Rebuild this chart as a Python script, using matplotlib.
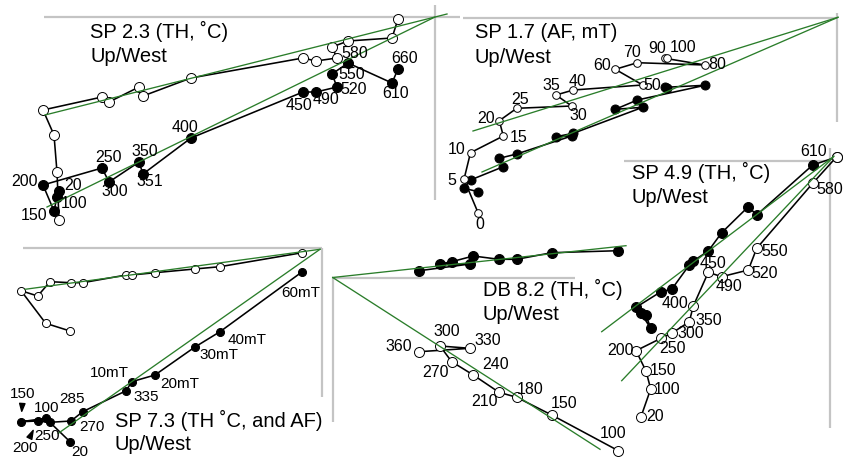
import matplotlib.pyplot as plt
import numpy as np

plt.rcParams['font.family'] = ['Liberation Sans', 'DejaVu Sans']

GREEN = '#2a7d2a'
GREY = '#c4c4c4'

# Orthogonal vector components for each specimen, in plot units relative to
# the diagram origin: x = N/S, hz = horizontal plane (solid), up = vertical (open)

# SP 2.3, thermal demagnetisation
sp23_steps = ['20', '100', '150', '200', '250', '300', '350', '351', '400',
              '450', '490', '520', '550', '580', '610', '660']
sp23_x = [-376, -378, -381, -392, -333, -326, -296, -292, -244,
          -132, -119, -98, -103, -87, -43, -37]
sp23_hz = [-174, -180, -194, -168, -151, -165, -145, -157, -121,
           -75, -75, -70, -57, -46, -66, -52]
sp23_up = [-203, -155, -118, -93, -80, -85, -70, -79, -61,
           -41, -44, -41, -30, -24, -21, -2]
sp23_fit_hz = [[-388, 0], [-190, 0]]
sp23_fit_up = [[-390, 12], [-98, 3]]

# SP 1.7, AF demagnetisation (mT)
sp17_steps = ['0', '5', '10', '15', '20', '25', '30', '35', '40',
              '50', '60', '70', '80', '90', '100']
sp17_x = [-358.7, -373, -366.5, -333.7, -337.7, -320.3, -265.3, -281, -263.7,
          -194.3, -221.7, -199.7, -132, -172, -170]
sp17_hz = [-173.7, -170.3, -162, -148.7, -140.3, -136, -118, -118.7, -115.3,
           -89.3, -91.3, -82, -67.3, -69.3, -70]
sp17_up = [-195.3, -161.3, -134.7, -118, -102.7, -90.3, -88, -77, -72,
           -67, -51.3, -44.7, -47, -40.3, -40]
sp17_fit_hz = [[-355, 1], [-154, 0.7]]
sp17_fit_up = [[-364, 1], [-113, 0.7]]

# SP 4.9, thermal demagnetisation
sp49_steps = ['20', '100', '150', '200', '250', '300', '350', '400', '450',
              '490', '520', '550', '580', '610']
sp49_x = [-189, -179.3, -184, -194, -169, -158.3, -140.7, -136.7, -121.7,
          -108.3, -81.7, -73.3, -17.3, 6.7]
sp49_hz = [-152.6, -167.6, -154.3, -146.6, -131, -128.6, -104.3, -100.3, -90.3,
           -72, -46, -54.3, -4.3, 3.7]
sp49_up = [-256, -228.3, -210.3, -190, -177.6, -172.6, -161, -145.3, -111.6,
           -116, -109.3, -87.6, -22.6, 4]
sp49_fit_hz = [[-228.3, 3.3], [-171, 4]]
sp49_fit_up = [[-208.3, 4], [-220, 4.5]]

# SP 7.3, thermal then AF
sp73_steps = ['20', '100', '150', '200', '250', '270', '285', '335',
              '10mT', '20mT', '30mT', '40mT', '60mT']
sp73_x = [-252, -276.3, -301, -284.3, -272, -251, -239.3, -195.8,
          -190.3, -167, -127.5, -102, -19.7]
sp73_hz = [-193.2, -169.8, -173.2, -172.5, -173.8, -172.5, -163.2, -142.2,
           -133.2, -126.5, -98.8, -83.2, -23.2]
sp73_up = [-82.5, -74.8, -42.2, -47.5, -33.2, -34.2, -34.2, -26.5,
           -26.5, -24.2, -20.5, -18.2, -4.2]
sp73_fit_hz = [[-263.7, -2], [-184.8, -0.8]]
sp73_fit_up = [[-297, -2], [-40.8, -0.8]]

# DB 8.2, thermal demagnetisation
db82_steps = ['100', '150', '180', '210', '240', '270', '300', '330', '360']
db82_x = [285.6, 219, 184, 166.3, 140.6, 119, 107.3, 137.3, 86.6]
db82_hz = [26.8, 24.8, 18.2, 18.2, 21.5, 15.8, 13.5, 13.5, 6.8]
db82_up = [-173.2, -137.5, -119.8, -114.8, -97.5, -84.2, -68.5, -70.8, -74.2]
db82_fit_hz = [[0, 293.3], [0, 31.8]]
db82_fit_up = [[0, 267.3], [0, -171.8]]

W, H = 851, 461
fig = plt.figure(figsize=(W / 100, H / 100), dpi=100)
ax = fig.add_axes([0, 0, 1, 1])
ax.set_xlim(0, W)
ax.set_ylim(0, H)
ax.axis('off')


def zijderveld(origin, x, hz, up, steps, label_on, offsets, fit_hz, fit_up,
               h_ext, v_ext, title, title_xy, ms=7.2, ms_open=None, fs=11.5,
               wedges=()):
    ox, oy = origin[0], H - origin[1]
    xs = ox + np.asarray(x, float)
    yh = oy + np.asarray(hz, float)
    yu = oy + np.asarray(up, float)
    # grey axes
    ax.plot([ox + h_ext[0], ox + h_ext[1]], [oy, oy], color=GREY, lw=1.6,
            solid_capstyle='butt', zorder=1)
    ax.plot([ox, ox], [oy + v_ext[0], oy + v_ext[1]], color=GREY, lw=1.6,
            solid_capstyle='butt', zorder=1)
    ax.plot(xs, yh, color='black', lw=1.15, marker='o', ms=ms,
            mfc='black', mec='black', mew=0.7, zorder=3)
    ax.plot(xs, yu, color='black', lw=1.15, marker='o', ms=ms_open or ms,
            mfc='white', mec='black', mew=0.7, zorder=3)
    for f in (fit_hz, fit_up):
        ax.plot(ox + np.asarray(f[0]), oy + np.asarray(f[1]), color=GREEN,
                lw=0.95, zorder=4)
    ys = yh if label_on == 'hz' else yu
    for s, xi, yi, (dx, dy) in zip(steps, xs, ys, offsets):
        kw = {}
        if s in wedges:
            kw['arrowprops'] = dict(arrowstyle='wedge,tail_width=0.35',
                                    color='black', shrinkA=0, shrinkB=7.5)
        ax.annotate(s, (xi, yi), xytext=(dx, dy), textcoords='offset pixels',
                    ha='center', va='center', fontsize=fs, zorder=5, **kw)
    ax.text(ox + title_xy[0], oy + title_xy[1], title, fontsize=14.5,
            ha='left', va='baseline', zorder=5)
    ax.text(ox + title_xy[0], oy + title_xy[2], 'Up/West', fontsize=14.5,
            ha='left', va='baseline', zorder=5)


zijderveld((435, 17), sp23_x, sp23_hz, sp23_up, sp23_steps, 'hz',
           [(14, 5), (17, -6), (-20, -5), (-19, 4), (7, 10), (6, -9), (6, 10),
            (7, -8), (-6, 11), (-4, -13), (10, -8), (17, -3), (20, -1),
            (7, 9), (4, -11), (7, 10)],
           sp23_fit_hz, sp23_fit_up, (-391, 25), (12, -183),
           'SP 2.3 (TH, \u02daC)', (-345, -21.3, -44.7))

zijderveld((837, 18), sp17_x, sp17_hz, sp17_up, sp17_steps, 'up',
           [(2, -11), (-12, -1), (-14, 3), (15, -2), (-13, 2), (3, 9), (7, -9),
            (-5, 10), (4, 9), (10, -1), (-13, 4), (-5, 10), (12, 0),
            (-8, 10), (16, 10)],
           sp17_fit_hz, sp17_fit_up, (-374, 0), (5, -104),
           'SP 1.7 (AF, mT)', (-362, -20.3, -45.3), ms=6.5, ms_open=5.5)

zijderveld((830, 160.7), sp49_x, sp49_hz, sp49_up, sp49_steps, 'up',
           [(14, 0), (16, 0), (17, 1), (-16, 0), (12, -10), (19, 0), (19, 1),
            (-18, 3), (5, 9), (7, -10), (16, -3), (18, -3), (17, -6),
            (-23, 5)],
           sp49_fit_hz, sp49_fit_up, (-206, 0), (12.5, -267.3),
           'SP 4.9 (TH, \u02daC)', (-198.3, -18.6, -42.6))

zijderveld((322, 248.5), sp73_x, sp73_hz, sp73_up, sp73_steps, 'hz',
           [(10, -10), (1, 10), (2, 28), (-13, -27), (-3, -14), (21, -6),
            (-11, 13), (20, -6), (-22, 9), (25, -9), (24, -8), (27, -8),
            (-2, -21)],
           sp73_fit_hz, sp73_fit_up, (-299, 0), (0, -148.5),
           'SP 7.3 (TH \u02daC, and AF)', (-207, -178.2, -201.5),
           ms=5.8, fs=11, wedges=('150', '200'))

zijderveld((332.7, 277.5), db82_x, db82_hz, db82_up, db82_steps, 'up',
           [(-5, 17), (12, 12), (13, 8), (-14, -9), (22, 11), (-16, -11),
            (7, 14), (18, 8), (-21, 5)],
           db82_fit_hz, db82_fit_up, (0, 242.3), (0, -144.2),
           'DB 8.2 (TH, \u02daC)', (150, -18.5, -42.5))

fig.savefig('out.png', dpi=100)
